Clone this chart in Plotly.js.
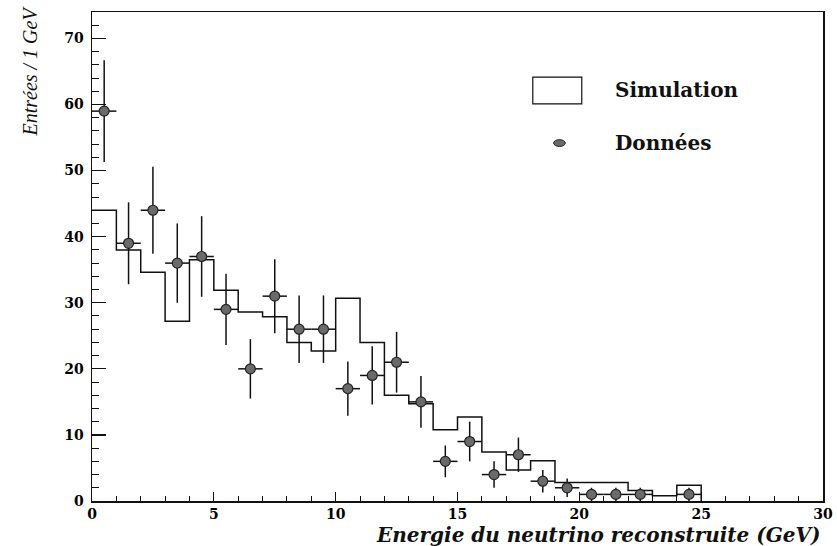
<!DOCTYPE html>
<html><head><meta charset="utf-8">
<script src="https://cdn.plot.ly/plotly-3.0.1.min.js"></script>
<style>html,body{margin:0;padding:0;background:#fff}</style>
</head><body><div id="chart" style="width:837px;height:546px"></div>
<script>
// Simulation histogram: bin edges and contents (1 GeV bins)
const simEdges = [0,1,2,3,4,5,6,7,8,9,10,11,12,13,14,15,16,17,18,19,20,21,22,23,24,25];
const simValues = [44,38,34.6,27.2,36.5,31.9,28.6,27.9,24.0,22.7,30.7,24.0,16.0,14.7,10.8,12.7,7.4,4.7,6.1,2.8,2.8,2.8,1.6,0.8,2.4];
// Data points (bin centres), counts and statistical errors
const dataX = [0.5,1.5,2.5,3.5,4.5,5.5,6.5,7.5,8.5,9.5,10.5,11.5,12.5,13.5,14.5,15.5,16.5,17.5,18.5,19.5,20.5,21.5,22.5,24.5];
const dataY = [59,39,44,36,37,29,20,31,26,26,17,19,21,15,6,9,4,7,3,2,1,1,1,1];
const dataErr = [7.7,6.2,6.6,6.0,6.1,5.4,4.5,5.6,5.1,5.1,4.1,4.4,4.6,3.9,2.4,3.0,2.0,2.6,1.7,1.4,1.0,1.0,1.0,1.0];
const dataHalfWidth = [0.5,0.5,0.5,0.5,0.5,0.5,0.5,0.5,0.5,0.5,0.5,0.5,0.5,0.5,0.5,0.5,0.5,0.5,0.5,0.5,0.5,0.5,0.5,0.5];
const xTicks = [0,5,10,15,20,25,30];
const yTicks = [0,10,20,30,40,50,60,70];

const simY = simValues.concat([0]);

const traces = [
  {x: simEdges, y: simY, type:'scatter', mode:'lines', line:{shape:'hv', color:'#111', width:1.5}, hoverinfo:'skip'},
  {x: dataX, y: dataY, type:'scatter', mode:'markers',
   marker:{symbol:'circle', size:10, color:'#6a6a6a', line:{color:'#222', width:1.2}},
   error_y:{type:'data', array:dataErr, visible:true, color:'#111', thickness:1.5, width:0},
   error_x:{type:'data', array:dataHalfWidth, visible:true, color:'#111', thickness:1.5, width:0}}
];

const tickFont = {family:'DejaVu Serif', size:14, color:'#000', weight:'bold'};
const layout = {
  width:837, height:546,
  margin:{l:92, r:14, t:12, b:45},
  paper_bgcolor:'#fff', plot_bgcolor:'#fff',
  showlegend:false,
  xaxis:{range:[0,30], tickvals:xTicks, ticktext:xTicks.map(String), ticks:'inside', ticklen:9, tickwidth:1.2, tickcolor:'#111',
    minor:{dtick:1, ticks:'inside', ticklen:5, tickwidth:1, tickcolor:'#111'},
    showgrid:false, zeroline:false, showline:true, linecolor:'#111', linewidth:1.5, mirror:true,
    tickfont:tickFont},
  yaxis:{range:[0,74], tickvals:yTicks, ticktext:yTicks.map(String), ticks:'inside', ticklen:14, tickwidth:1.2, tickcolor:'#111',
    minor:{dtick:2, ticks:'inside', ticklen:7, tickwidth:1, tickcolor:'#111'},
    showgrid:false, zeroline:false, showline:true, linecolor:'#111', linewidth:1.5, mirror:true,
    tickfont:tickFont, ticklabelstandoff:4},
  shapes:[
    {type:'rect', xref:'paper', yref:'paper', x0:0.603, x1:0.670, y0:0.812, y1:0.867, line:{color:'#111', width:1.2}, fillcolor:'rgba(0,0,0,0)'},
    {type:'circle', xref:'paper', yref:'paper', x0:0.6315, x1:0.6475, y0:0.725, y1:0.739, line:{color:'#222', width:1}, fillcolor:'#6a6a6a'}
  ],
  annotations:[
    {text:'Simulation', xref:'paper', yref:'paper', x:0.713, y:0.840, xanchor:'left', yanchor:'middle', showarrow:false,
     font:{family:'DejaVu Serif', size:20, color:'#111', weight:'bold'}},
    {text:'Données', xref:'paper', yref:'paper', x:0.713, y:0.732, xanchor:'left', yanchor:'middle', showarrow:false,
     font:{family:'DejaVu Serif', size:20, color:'#111', weight:'bold'}},
    {text:'Energie du neutrino reconstruite (GeV)', xref:'paper', yref:'paper', x:1.0, y:-0.07, xanchor:'right', yanchor:'middle', showarrow:false,
     font:{family:'DejaVu Serif', size:20, color:'#111', style:'italic', weight:'bold'}},
    {text:'Entrées / 1 GeV', xref:'paper', yref:'paper', x:-0.085, y:0.88, xanchor:'center', yanchor:'middle', textangle:-90, showarrow:false,
     font:{family:'Liberation Serif', size:20, color:'#111', style:'italic'}}
  ]
};
Plotly.newPlot('chart', traces, layout, {displayModeBar:false, staticPlot:true});
</script></body></html>
